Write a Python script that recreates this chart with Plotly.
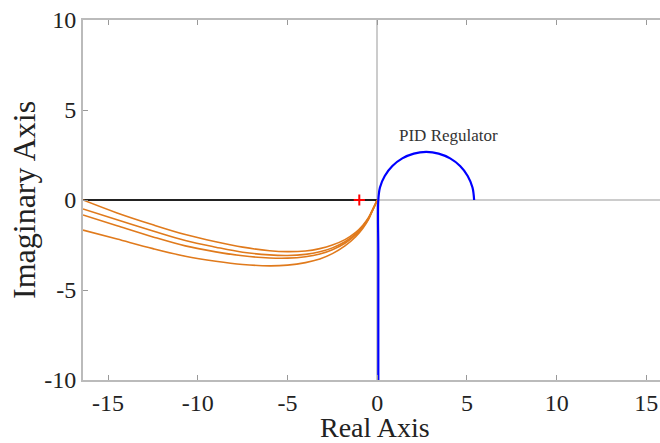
import plotly.graph_objects as go

# Orange Nyquist curves (4 parameter variants)
curve_x = [-16.4, -14.5, -12.5, -10.7, -9.0, -7.5, -6.0, -5.0, -4.0, -3.2, -2.5, -1.8, -1.2, -0.8, -0.5, -0.3, -0.12, 0.0]
curve_a = [0.0, -0.72, -1.38, -1.92, -2.32, -2.62, -2.82, -2.87, -2.83, -2.7, -2.5, -2.2, -1.8, -1.4, -1.0, -0.62, -0.25, 0.0]
curve_b = [-0.5, -1.1, -1.72, -2.25, -2.62, -2.9, -3.05, -3.08, -3.02, -2.88, -2.66, -2.32, -1.88, -1.46, -1.04, -0.64, -0.26, 0.0]
curve_c = [-0.83, -1.43, -2.05, -2.55, -2.88, -3.1, -3.22, -3.23, -3.15, -3.0, -2.76, -2.4, -1.94, -1.5, -1.07, -0.65, -0.27, 0.0]
curve_d = [-1.67, -2.17, -2.7, -3.12, -3.4, -3.58, -3.66, -3.62, -3.48, -3.28, -2.98, -2.55, -2.04, -1.57, -1.11, -0.67, -0.28, 0.0]

# Blue PID regulator curve
pid_x = [0.06, 0.06, 0.06, 0.151, 0.418, 0.842, 1.395, 2.039, 2.73, 3.421, 4.065, 4.618, 5.042, 5.309, 5.4]
pid_y = [-10.0, -3.0, 0.0, 0.691, 1.335, 1.888, 2.312, 2.579, 2.67, 2.579, 2.312, 1.888, 1.335, 0.691, 0.0]

# Black real-axis segment and critical point
seg_x = [-16.4, 0.0]
seg_y = [0.0, 0.0]
crit_x = [-1.0]
crit_y = [0.0]

x_ticks = [-15, -10, -5, 0, 5, 10, 15]
x_tick_text = ["-15", "-10", "-5", "0", "5", "10", "15"]
y_ticks = [-10, -5, 0, 5, 10]
y_tick_text = ["-10", "-5", "0", "5", "10"]

orange = "#E07A1C"
fig = go.Figure()
fig.add_trace(go.Scatter(x=seg_x, y=seg_y, mode="lines", line=dict(color="#222222", width=2.2)))
for cy in [curve_a, curve_b, curve_c, curve_d]:
    fig.add_trace(go.Scatter(x=curve_x, y=cy, mode="lines",
                             line=dict(color=orange, width=1.6, shape="spline", smoothing=1.0)))
fig.add_trace(go.Scatter(x=pid_x, y=pid_y, mode="lines",
                         line=dict(color="#0000FF", width=2.2, shape="spline", smoothing=1.0)))
fig.add_trace(go.Scatter(x=crit_x, y=crit_y, mode="markers",
                         marker=dict(symbol="cross-thin", size=8, color="red",
                                     line=dict(color="red", width=2))))

serif = "Liberation Serif"
fig.add_annotation(x=3.95, y=3.6, text="PID Regulator", showarrow=False,
                   font=dict(family=serif, size=17, color="#333333"))
fig.add_annotation(xref="paper", yref="paper", x=(375 - 83) / 577, y=0, yanchor="middle",
                   yshift=-47, text="Real Axis", showarrow=False,
                   font=dict(family=serif, size=28, color="#222222"))
fig.add_annotation(xref="paper", yref="paper", x=0, y=0.5, xanchor="center", xshift=-59,
                   text="Imaginary Axis", textangle=-90, showarrow=False,
                   font=dict(family=serif, size=32, color="#222222"))

fig.update_layout(
    width=660, height=443,
    margin=dict(l=83, r=0, t=20, b=63),
    plot_bgcolor="white", paper_bgcolor="white",
    showlegend=False,
    xaxis=dict(range=[-16.4, 15.76], tickvals=x_ticks, ticktext=x_tick_text,
               ticks="inside", ticklen=5, automargin=False, ticklabeloverflow="allow",
               tickcolor="#999999", showgrid=False, zeroline=True, zerolinecolor="#cccccc",
               zerolinewidth=2, showline=True, linecolor="#bbbbbb", linewidth=2,
               mirror="ticks", tickfont=dict(family=serif, size=24, color="#222222")),
    yaxis=dict(range=[-10, 10], tickvals=y_ticks, ticktext=y_tick_text,
               ticks="inside", ticklen=5, automargin=False, ticklabeloverflow="allow",
               tickcolor="#999999", showgrid=False, zeroline=True, zerolinecolor="#cccccc",
               zerolinewidth=2, showline=True, linecolor="#bbbbbb", linewidth=2,
               mirror=False, tickfont=dict(family=serif, size=24, color="#222222")),
)

# remove the page's default 8px body margin so the figure fills the window exactly
fig.write_html("out.html", config={"displayModeBar": False},
               post_script="document.body.style.margin='0';document.body.style.overflow='hidden';")
